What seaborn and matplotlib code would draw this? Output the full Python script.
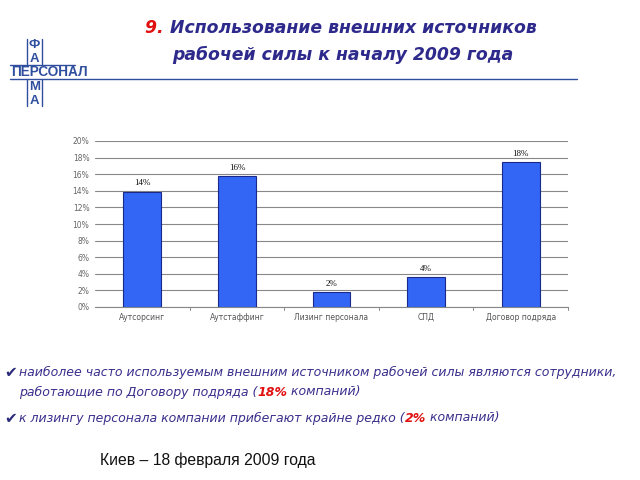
import matplotlib
matplotlib.use("Agg")
import matplotlib.pyplot as plt
import seaborn as sns
import pandas as pd
from matplotlib.lines import Line2D

categories = ["Аутсорсинг", "Аутстаффинг", "Лизинг персонала", "СПД", "Договор подряда"]
values = [13.9, 15.8, 1.8, 3.6, 17.5]
value_labels = ["14%", "16%", "2%", "4%", "18%"]
yticks = [0, 2, 4, 6, 8, 10, 12, 14, 16, 18, 20]

sns.set_theme(style="white")
plt.rcParams["font.family"] = ["DejaVu Sans"]

W, H = 640, 480
fig = plt.figure(figsize=(6.4, 4.8), dpi=100)

def fx(px):
    return px / W

def fy(py):
    return 1 - py / H

# axes: x 95..568, y 141..307
ax = fig.add_axes([fx(95), fy(307), (568 - 95) / W, (307 - 141) / H])
df = pd.DataFrame({"cat": categories, "val": values})
sns.barplot(data=df, x="cat", y="val", ax=ax, color="#3366F5", width=0.4,
            edgecolor="#1A2A8A", linewidth=0.8, saturation=1)
ax.set_ylim(0, 20)
ax.set_xlim(-0.5, len(categories) - 0.5)
ax.set_yticks(yticks)
ax.set_yticklabels([f"{t}%" for t in yticks], fontsize=5.5, color="#666666")
ax.set_xticks(range(len(categories)))
ax.set_xticklabels(categories, fontsize=5.5, color="#555555")
ax.tick_params(axis="both", length=0, pad=4)
ax.set_xlabel("")
ax.set_ylabel("")
ax.yaxis.grid(True, color="#888888", linewidth=0.8)
ax.set_axisbelow(True)
for s in ["top", "right", "left"]:
    ax.spines[s].set_visible(False)
ax.spines["bottom"].set_color("#888888")
ax.spines["bottom"].set_linewidth(0.8)
# boundary tick marks below axis
for b in [0.5, 1.5, 2.5, 3.5, 4.5]:
    ax.plot([b, b], [0, -0.35], color="#888888", linewidth=0.7, clip_on=False)
for i, (v, lab) in enumerate(zip(values, value_labels)):
    ax.text(i, v + 0.5, lab, ha="center", va="bottom", fontsize=6.5,
            family="Liberation Serif", color="#111111")

# ---- title ----
navy = "#2E2A8C"
red = "#E01010"
renderer = fig.canvas.get_renderer()

def chain(parts, x_px, y_px, size, style="italic", family="DejaVu Sans"):
    x = fx(x_px)
    for txt, col, w in parts:
        t = fig.text(x, fy(y_px), txt, color=col, fontsize=size, style=style,
                     weight=w, family=family, ha="left", va="center")
        bb = t.get_window_extent(renderer=renderer)
        x = (bb.x1) / W
    return x

chain([("9. ", red, "bold"), ("Использование внешних источников", navy, "bold")],
      145, 28, 12.4)
chain([("рабочей силы к началу 2009 года", navy, "bold")], 172, 55, 12.4)

# ---- logo ----
logo = "#2F4E9E"
for letter, y in [("Ф", 45), ("А", 59), ("М", 87), ("А", 101)]:
    fig.text(fx(34.5), fy(y), letter, color=logo, fontsize=9.5, weight="bold",
             ha="center", va="center", family="Liberation Sans")
fig.text(fx(49), fy(72.5), "ПЕРСОНАЛ", color=logo, fontsize=9.8, weight="bold",
         ha="center", va="center", family="Liberation Sans")
lines = [
    ((27, 27), (39, 64)), ((42, 42), (39, 64)),
    ((27, 27), (79, 106)), ((42, 42), (79, 106)),
    ((10, 75), (64.5, 64.5)),
    ((10, 577), (79, 79)),
]
for xs, ys in lines:
    fig.add_artist(Line2D([fx(xs[0]), fx(xs[1])], [fy(ys[0]), fy(ys[1])],
                          color=logo, linewidth=1.0, transform=fig.transFigure))

# ---- bullets ----
bcol = "#3A2E8C"
fs = 9.0
fig.text(fx(4), fy(373), "✔", color="#2A2A7A", fontsize=11, ha="left", va="center")
chain([("наиболее часто используемым внешним источником рабочей силы являются сотрудники,", bcol, "normal")],
      19, 372, fs)
chain([("работающие по Договору подряда (", bcol, "normal"), ("18%", red, "bold"),
       (" компаний)", bcol, "normal")], 19, 392, fs)
fig.text(fx(4), fy(419), "✔", color="#2A2A7A", fontsize=11, ha="left", va="center")
chain([("к лизингу персонала компании прибегают крайне редко (", bcol, "normal"),
       ("2%", red, "bold"), (" компаний)", bcol, "normal")], 19, 418, fs)

fig.text(fx(100), fy(460), "Киев – 18 февраля 2009 года", color="#111111",
         fontsize=11.3, family="Liberation Sans", ha="left", va="center")

fig.savefig("out.png", dpi=100)
